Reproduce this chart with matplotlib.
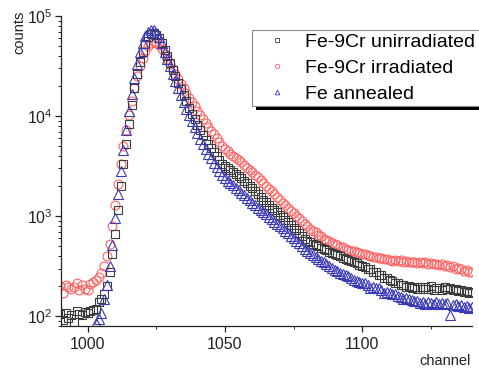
import numpy as np
import matplotlib
matplotlib.use('Agg')
import matplotlib.pyplot as plt
from matplotlib.lines import Line2D
from matplotlib.patches import Rectangle
from matplotlib.ticker import LogLocator, MultipleLocator

plt.rcParams['font.family'] = ['Liberation Sans', 'DejaVu Sans']

# channel axis, one point per channel
channel = np.arange(990, 1141)

# Fe-9Cr irradiated (red circles)
red_counts = [
    200, 172, 205, 198, 188, 196, 215, 182, 205, 186,
    182, 212, 218, 228, 245, 272, 320, 400, 530, 800,
    1300, 2100, 3300, 5000, 7300, 10300, 14200, 19200, 25000, 31500,
    38000, 44500, 50000, 53500, 55000, 54000, 51500, 47000, 42000, 37500,
    33000, 29500, 26300, 23500, 21100, 19000, 17100, 15300, 13800, 12500,
    11300, 10200, 9300, 8500, 7800, 7150, 6600, 6050, 5550, 5050,
    4720, 4450, 4200, 3980, 3800, 3630, 3500, 3250, 3050, 2900,
    2750, 2600, 2450, 2300, 2150, 2020, 1880, 1780, 1650, 1550,
    1450, 1370, 1290, 1200, 1130, 1070, 1010, 950, 890, 830,
    790, 750, 715, 700, 650, 630, 590, 580, 560, 545,
    530, 515, 490, 490, 470, 460, 450, 445, 435, 430,
    420, 415, 405, 400, 390, 395, 380, 385, 370, 375,
    365, 360, 368, 355, 362, 350, 358, 345, 352, 348,
    340, 350, 338, 345, 332, 340, 330, 336, 325, 330,
    320, 326, 310, 318, 300, 305, 295, 285, 290, 275, 280,
]

# Fe-9Cr unirradiated (black squares)
black_counts = [
    105, 92, 108, 96, 102, 88, 112, 106, 104, 110,
    108, 114, 116, 118, 140, 150, 168, 200, 280, 420,
    660, 1150, 2000, 3300, 5300, 8400, 13000, 19000, 26500, 35000,
    44000, 53000, 61000, 66500, 68400, 65300, 60300, 53700, 46200, 39400,
    33900, 29200, 25100, 21600, 18600, 16200, 14000, 12000, 10600, 9330,
    8220, 7240, 6460, 5750, 5250, 4790, 4370, 3980, 3630, 3350,
    3160, 3020, 2880, 2750, 2630, 2510, 2400, 2260, 2140, 2020,
    1910, 1780, 1660, 1550, 1460, 1380, 1290, 1220, 1150, 1100,
    1035, 980, 920, 870, 815, 770, 725, 675, 630, 595,
    570, 550, 530, 515, 500, 485, 470, 455, 440, 425,
    415, 405, 398, 385, 376, 363, 355, 347, 339, 327,
    320, 312, 298, 295, 280, 278, 260, 258, 243, 240,
    229, 226, 217, 216, 207, 205, 198, 199, 193, 195,
    188, 196, 186, 194, 188, 199, 185, 193, 190, 184,
    195, 187, 192, 185, 188, 180, 185, 176, 180, 172, 175,
]

# Fe annealed (blue triangles)
blue_counts = [
    55, 52, 58, 54, 56, 50, 57, 55, 53, 58,
    56, 60, 62, 85, 95, 108, 150, 205, 320, 510,
    950, 1650, 2800, 4600, 7300, 11200, 16500, 24000, 33500, 44000,
    54000, 63000, 69500, 73300, 72400, 67600, 61700, 53700, 43700, 37200,
    31600, 26300, 22400, 19100, 16200, 13800, 11900, 10200, 8910, 7760,
    6760, 5960, 5250, 4680, 4220, 3800, 3420, 3090, 2800, 2560,
    2400, 2270, 2150, 2040, 1930, 1820, 1720, 1620, 1530, 1440,
    1360, 1290, 1220, 1160, 1100, 1040, 985, 935, 885, 840,
    795, 755, 715, 675, 635, 600, 565, 535, 505, 470,
    447, 427, 407, 389, 372, 359, 347, 331, 316, 302,
    292, 282, 272, 263, 257, 255, 240, 228, 226, 221,
    214, 215, 204, 193, 195, 191, 190, 182, 172, 174,
    170, 166, 166, 158, 157, 150, 151, 148, 146, 143,
    141, 136, 140, 133, 138, 135, 132, 139, 134, 137,
    133, 136, 102, 130, 134, 128, 131, 125, 128, 122, 124,
]

labels = ['Fe-9Cr unirradiated', 'Fe-9Cr irradiated', 'Fe annealed']
BLACK = '#3c3c3c'
RED = '#ff6262'
BLUE = '#3a3ab8'

W, H = 479, 370
fig = plt.figure(figsize=(W / 100, H / 100), dpi=100)
ax = fig.add_axes([61 / W, 1 - 326 / H, (472 - 61) / W, (326 - 16) / H])

ax.plot(channel, red_counts, ls='none', marker='o', ms=6.4,
        mfc='none', mec=RED, mew=0.8)
ax.plot(channel, black_counts, ls='none', marker='s', ms=5.8,
        mfc='none', mec=BLACK, mew=0.8)
ax.plot(channel, blue_counts, ls='none', marker='^', ms=6.6,
        mfc='none', mec=BLUE, mew=0.8)

ax.set_yscale('log')
ax.set_xlim(990.3, 1140)
ax.set_ylim(80, 1e5)
ax.xaxis.set_major_locator(MultipleLocator(50))
ax.xaxis.set_minor_locator(MultipleLocator(25))
ax.yaxis.set_major_locator(LogLocator(base=10, numticks=10))
ax.yaxis.set_minor_locator(LogLocator(base=10, subs=np.arange(2, 10), numticks=20))

for s in ['top', 'right']:
    ax.spines[s].set_visible(False)
for s in ['left', 'bottom']:
    ax.spines[s].set_linewidth(0.9)
    ax.spines[s].set_color('#222222')

ax.tick_params(which='major', direction='out', length=4, width=0.9,
               labelsize=11.5, pad=2, colors='#222222')
ax.tick_params(which='minor', direction='out', length=2.2, width=0.7,
               colors='#222222')
ax.tick_params(axis='x', which='major', pad=4)

fig.text(19 / W, 1 - 32 / H, 'counts', rotation=90, ha='center',
         va='center', fontsize=10.5, color='#222222')
fig.text(445 / W, 1 - 361 / H, 'channel', ha='center', va='center',
         fontsize=10.5, color='#222222')

# legend box with a black drop shadow
fig.patches.append(Rectangle((256 / W, 1 - 110 / H), 0.6, 76 / H,
                             transform=fig.transFigure, facecolor='black',
                             edgecolor='none', zorder=2))
fig.patches.append(Rectangle((252 / W, 1 - 106 / H), 0.6, 76 / H,
                             transform=fig.transFigure, facecolor='white',
                             edgecolor='#8a8a8a', lw=0.8, zorder=3))

handles = [
    Line2D([], [], ls='none', marker='s', ms=3.0, mfc='none', mec=BLACK, mew=0.6),
    Line2D([], [], ls='none', marker='o', ms=3.2, mfc='none', mec=RED, mew=0.6),
    Line2D([], [], ls='none', marker='^', ms=3.4, mfc='none', mec=BLUE, mew=0.6),
]
fig.legend(handles, labels, loc='upper left',
           bbox_to_anchor=(267 / W, 1 - 33.5 / H), bbox_transform=fig.transFigure,
           frameon=False, fontsize=14, handlelength=1.0, handletextpad=0.95,
           labelspacing=0.42, borderpad=0, borderaxespad=0)

fig.savefig('out.png', dpi=100, facecolor='white')
